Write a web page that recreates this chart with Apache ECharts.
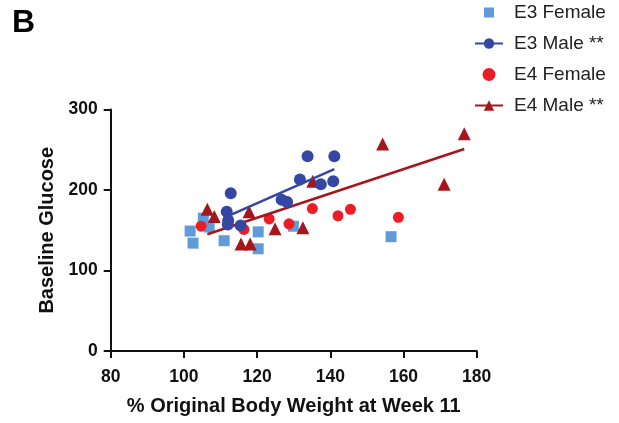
<!DOCTYPE html>
<html>
<head>
<meta charset="utf-8">
<script src="https://cdn.jsdelivr.net/npm/echarts@6/dist/echarts.min.js"></script>
<style>
  html, body { margin: 0; padding: 0; background: #fff; }
  #chart { width: 619px; height: 423px; }
</style>
</head>
<body>
<div id="chart"></div>
<script>
// % original body weight (x) vs baseline glucose (y), per genotype/sex group
const e3Female = [
  [101.7, 149], [102.5, 134], [105.3, 165], [106.9, 154], [111.0, 137],
  [120.3, 148], [120.3, 127], [129.9, 155], [156.6, 142]
];
const e3Male = [
  [112.8, 196], [111.7, 173], [112.1, 162], [112.0, 157], [115.5, 156],
  [126.7, 188], [128.2, 185], [131.7, 213], [133.8, 242], [141.1, 242],
  [137.4, 207], [140.8, 211]
];
const e4Female = [
  [104.7, 155], [116.4, 151], [123.3, 164], [128.7, 158], [135.1, 177],
  [142.1, 168], [145.5, 176], [158.6, 166]
];
const e4Male = [
  [106.4, 176], [108.3, 167], [117.8, 173], [115.6, 133], [118.1, 133],
  [124.9, 152], [132.5, 153], [135.2, 211], [154.3, 257], [171.1, 207],
  [176.6, 270]
];
// Linear fit segments for the male groups
const e3MaleFit = [[111.7, 167], [141.1, 226]];
const e4MaleFit = [[106.4, 145], [176.6, 251]];

const xTicks = { min: 80, max: 180, interval: 20 };
const yTicks = { min: 0, max: 300, interval: 100 };

const names = ['E3 Female', 'E3 Male **', 'E4 Female', 'E4 Male **'];
const colors = {
  e3f: '#5f9bd8',
  e3m: '#3447a3',
  e4f: '#ee1c25',
  e4m: '#a5161d'
};

const font = 'Liberation Sans, Arial, Helvetica, sans-serif';
const chart = echarts.init(document.getElementById('chart'), null, { renderer: 'canvas' });

const axisCommon = {
  axisLine: { show: true, lineStyle: { color: '#111', width: 2 } },
  axisTick: { show: true, inside: false, length: 7, lineStyle: { color: '#111', width: 2 } },
  axisLabel: { color: '#111', fontFamily: font, fontWeight: 'bold', fontSize: 17.5 },
  splitLine: { show: false },
  nameLocation: 'middle',
  nameTextStyle: { color: '#111', fontFamily: font, fontWeight: 'bold', fontSize: 20 }
};

// square legend marker, padded inside a 13px box so it draws about 10px wide
const squareIcon = 'path://M0,0 M13,13 M1.5,1.5 L11.5,1.5 L11.5,11.5 L1.5,11.5 Z';

chart.setOption({
  animation: false,
  backgroundColor: '#fff',
  title: {
    text: 'B',
    left: 7, top: 2,
    textStyle: { fontFamily: font, fontWeight: 'bold', fontSize: 32, color: '#000' }
  },
  legend: {
    orient: 'vertical',
    left: 469, top: -2,
    itemWidth: 28, itemHeight: 13, itemGap: 12,
    data: [
      { name: names[0], icon: squareIcon },
      names[1], names[2], names[3]
    ],
    textStyle: { fontFamily: font, fontSize: 19, color: '#222', padding: [0, 0, 0, 6] }
  },
  grid: { left: 110.7, right: 142.3, top: 109.5, bottom: 72, containLabel: false },
  xAxis: Object.assign({}, axisCommon, {
    type: 'value',
    min: xTicks.min, max: xTicks.max, interval: xTicks.interval,
    name: '% Original Body Weight at Week 11',
    nameGap: 45,
    axisLabel: Object.assign({}, axisCommon.axisLabel, { margin: 17 })
  }),
  yAxis: Object.assign({}, axisCommon, {
    type: 'value',
    min: yTicks.min, max: yTicks.max, interval: yTicks.interval,
    name: 'Baseline Glucose',
    nameGap: 51,
    axisLabel: Object.assign({}, axisCommon.axisLabel, { margin: 13 })
  }),
  series: [
    {
      name: 'E3 Female', type: 'scatter', data: e3Female,
      symbol: 'rect', symbolSize: 11, z: 3,
      itemStyle: { color: colors.e3f, opacity: 1 }
    },
    {
      name: 'E3 Male **', type: 'line', data: e3MaleFit,
      symbol: 'circle', symbolSize: 11, showSymbol: false, z: 4,
      lineStyle: { color: colors.e3m, width: 2.5 }, itemStyle: { color: colors.e3m }
    },
    {
      name: 'E3 Male **', type: 'scatter', data: e3Male,
      symbol: 'circle', symbolSize: 12, z: 5,
      itemStyle: { color: colors.e3m, opacity: 1 }
    },
    {
      name: 'E4 Female', type: 'scatter', data: e4Female,
      symbol: 'circle', symbolSize: 11, z: 3,
      itemStyle: { color: colors.e4f, opacity: 1 }
    },
    {
      name: 'E4 Male **', type: 'line', data: e4MaleFit,
      symbol: 'triangle', symbolSize: 12, showSymbol: false, z: 4,
      lineStyle: { color: colors.e4m, width: 2.5 }, itemStyle: { color: colors.e4m }
    },
    {
      name: 'E4 Male **', type: 'scatter', data: e4Male,
      symbol: 'triangle', symbolSize: 13, z: 3,
      itemStyle: { color: colors.e4m, opacity: 1 }
    }
  ]
});
</script>
</body>
</html>
